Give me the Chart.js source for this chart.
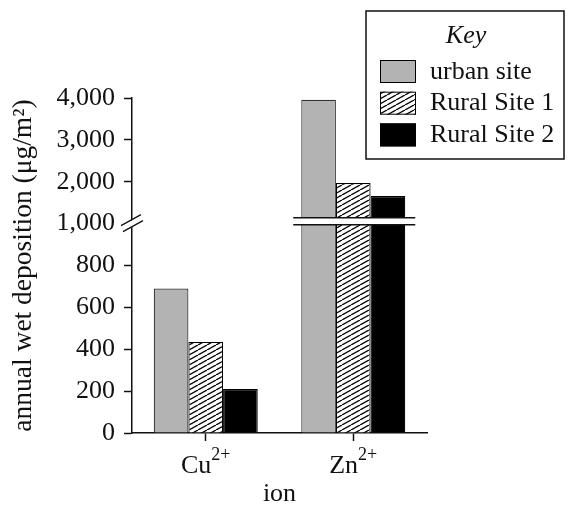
<!DOCTYPE html>
<html>
<head>
<meta charset="utf-8">
<script src="https://cdn.jsdelivr.net/npm/chart.js@4.4.1/dist/chart.umd.min.js"></script>
<style>
  html, body { margin: 0; padding: 0; background: #fff; }
  canvas { display: block; }
</style>
</head>
<body>
<canvas id="chart" width="569" height="510"></canvas>
<script>
const ions = ['Cu', 'Zn'];
const charges = ['2+', '2+'];
const seriesNames = ['urban site', 'Rural Site 1', 'Rural Site 2'];
const urbanSite = [690, 3960];
const ruralSite1 = [435, 1970];
const ruralSite2 = [210, 1660];
// broken y axis: 0-1000 by 200, then 1000-4000 by 1000, each step same height
const tickValues = [0, 200, 400, 600, 800, 1000, 2000, 3000, 4000];
const tickLabels = ['0', '200', '400', '600', '800', '1,000', '2,000', '3,000', '4,000'];
const breakValue = 1000;

const FONT = 'Liberation Serif';
const INK = '#111';

// map a real value onto the evenly spaced tick index axis
function toAxis(v) {
  for (let i = 0; i < tickValues.length - 1; i++) {
    const a = tickValues[i], b = tickValues[i + 1];
    if (v <= b) return i + (v - a) / (b - a);
  }
  return tickValues.length - 1;
}
const breakIndex = toAxis(breakValue);

function makeHatch() {
  const c = document.createElement('canvas');
  c.width = 9; c.height = 5;
  const g = c.getContext('2d');
  g.fillStyle = '#fff';
  g.fillRect(0, 0, 9, 5);
  g.strokeStyle = '#000';
  g.lineWidth = 1.3;
  for (let k = -1; k <= 1; k++) {
    g.beginPath();
    g.moveTo(k * 9, 5);
    g.lineTo(k * 9 + 9, 0);
    g.stroke();
  }
  return g.createPattern(c, 'repeat');
}
const hatch = makeHatch();

const brokenAxis = {
  id: 'brokenAxis',
  afterDatasetsDraw(chart) {
    const ctx = chart.ctx;
    const y = chart.scales.y.getPixelForValue(breakIndex);
    const first = chart.getDatasetMeta(0).data[1];
    const last = chart.getDatasetMeta(2).data[1];
    // only the group that crosses the break gets the gap
    if (urbanSite[1] <= breakValue) return;
    const x0 = first.x - first.width / 2 - 8;
    const x1 = last.x + last.width / 2 + 10;
    const top = y - 6, bot = y + 1;
    ctx.save();
    ctx.fillStyle = '#fff';
    ctx.fillRect(x0, top, x1 - x0, bot - top);
    ctx.strokeStyle = INK;
    ctx.lineWidth = 1.5;
    ctx.beginPath();
    ctx.moveTo(x0, top); ctx.lineTo(x1, top);
    ctx.moveTo(x0, bot); ctx.lineTo(x1, bot);
    ctx.stroke();
    ctx.restore();
  },
  afterDraw(chart) {
    const ctx = chart.ctx;
    const ax = chart.chartArea.left;
    const y = chart.scales.y.getPixelForValue(breakIndex);
    ctx.save();
    ctx.fillStyle = '#fff';
    ctx.beginPath();
    ctx.moveTo(ax - 3, y - 2);
    ctx.lineTo(ax + 3, y - 5);
    ctx.lineTo(ax + 3, y + 2);
    ctx.lineTo(ax - 3, y + 5);
    ctx.closePath();
    ctx.fill();
    ctx.strokeStyle = INK;
    ctx.lineWidth = 1.3;
    ctx.beginPath();
    ctx.moveTo(ax - 11, y + 2); ctx.lineTo(ax + 9, y - 9);
    ctx.moveTo(ax - 9, y + 8); ctx.lineTo(ax + 11, y - 3);
    ctx.stroke();
    ctx.restore();
  }
};

const ionLabels = {
  id: 'ionLabels',
  afterDraw(chart) {
    const ctx = chart.ctx;
    const xs = chart.scales.x;
    ctx.save();
    ctx.fillStyle = INK;
    ctx.textBaseline = 'alphabetic';
    ctx.textAlign = 'left';
    ions.forEach((name, i) => {
      const x = xs.getPixelForTick(i);
      ctx.font = '26px "' + FONT + '"';
      const wMain = ctx.measureText(name).width;
      ctx.font = '18px "' + FONT + '"';
      const wSup = ctx.measureText(charges[i]).width;
      const start = x - (wMain + wSup) / 2;
      ctx.font = '26px "' + FONT + '"';
      ctx.fillText(name, start, 473);
      ctx.font = '18px "' + FONT + '"';
      ctx.fillText(charges[i], start + wMain, 460);
    });
    ctx.restore();
  }
};

const keyBox = {
  id: 'keyBox',
  afterDraw(chart) {
    const ctx = chart.ctx;
    ctx.save();
    ctx.fillStyle = '#fff';
    ctx.fillRect(366, 11, 198, 148);
    ctx.strokeStyle = INK;
    ctx.lineWidth = 1.5;
    ctx.strokeRect(366, 11, 198, 148);
    ctx.fillStyle = INK;
    ctx.font = 'italic 26px "' + FONT + '"';
    ctx.textAlign = 'center';
    ctx.textBaseline = 'alphabetic';
    ctx.fillText('Key', 466, 43);
    ctx.textAlign = 'left';
    ctx.font = '26px "' + FONT + '"';
    chart.data.datasets.forEach((ds, i) => {
      const top = 60 + i * 31.7;
      ctx.fillStyle = ds.backgroundColor;
      ctx.fillRect(380, top, 36, 23);
      ctx.strokeStyle = '#000';
      ctx.lineWidth = 1;
      ctx.strokeRect(380.5, top + 0.5, 35, 22);
      ctx.fillStyle = INK;
      ctx.fillText(ds.label, 430, top + 18.5);
    });
    ctx.restore();
  }
};

const font = { family: FONT, size: 26 };

new Chart(document.getElementById('chart'), {
  type: 'bar',
  data: {
    labels: ions,
    datasets: [
      { label: seriesNames[0], data: urbanSite.map(toAxis), backgroundColor: '#b3b3b3', borderColor: '#333', borderWidth: 1.2 },
      { label: seriesNames[1], data: ruralSite1.map(toAxis), backgroundColor: hatch, borderColor: '#000', borderWidth: 1.2 },
      { label: seriesNames[2], data: ruralSite2.map(toAxis), backgroundColor: '#000', borderColor: '#000', borderWidth: 1.2 }
    ]
  },
  options: {
    responsive: false,
    animation: false,
    devicePixelRatio: 1,
    layout: { padding: { top: 98, right: 142, left: 0, bottom: 0 } },
    datasets: { bar: { categoryPercentage: 0.705, barPercentage: 1 } },
    plugins: { legend: { display: false }, tooltip: { enabled: false } },
    scales: {
      x: {
        grid: { drawOnChartArea: false, offset: false, tickLength: 8, tickWidth: 1.5, tickColor: INK },
        border: { color: INK, width: 1.5 },
        ticks: { color: 'rgba(0,0,0,0)', font: font },
        title: { display: true, text: 'ion', font: font, color: INK, padding: 0 },
        afterFit(s) { s.height = 77; }
      },
      y: {
        min: 0,
        max: tickValues.length - 1,
        ticks: {
          stepSize: 1, padding: 9, color: INK, font: font,
          callback: (v) => tickLabels[v]
        },
        grid: {
          drawOnChartArea: false, tickLength: 8, tickWidth: 1.5,
          tickColor: (c) => (c.tick && c.tick.value === breakIndex ? 'rgba(0,0,0,0)' : INK)
        },
        border: { color: INK, width: 1.5 },
        title: { display: true, text: 'annual wet deposition (μg/m²)', font: { family: FONT, size: 27.5 }, color: INK, padding: { top: 7, bottom: 0 } },
        afterFit(s) { s.width = 132; }
      }
    }
  },
  plugins: [brokenAxis, ionLabels, keyBox]
});
</script>
</body>
</html>
